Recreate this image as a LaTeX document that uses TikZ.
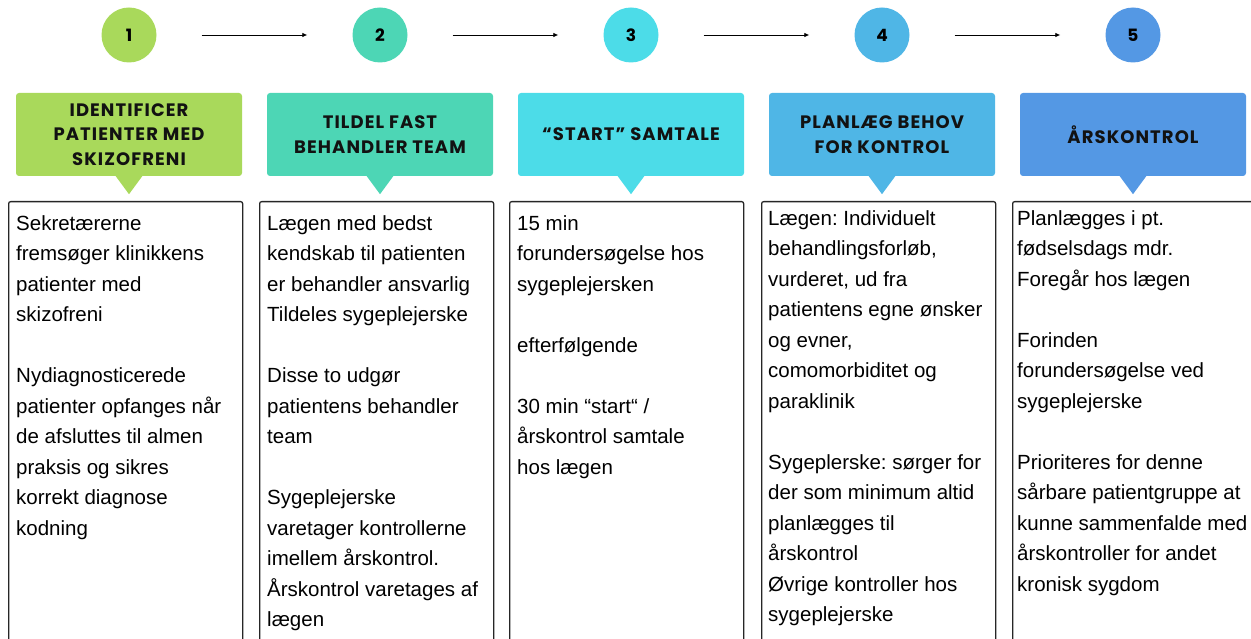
\documentclass[tikz,border=0pt]{standalone}
\usepackage{fontspec}
\setmainfont{Liberation Sans}
\newfontfamily\headfont{Poppins}[LetterSpace=6]
\usetikzlibrary{arrows.meta}

\definecolor{stepgreen}{HTML}{A9D95B}
\definecolor{stepteal}{HTML}{4DD6B5}
\definecolor{stepcyan}{HTML}{4CDCE8}
\definecolor{stepsky}{HTML}{4FB6E6}
\definecolor{stepblue}{HTML}{5498E4}

\begin{document}
\frenchspacing
\begin{tikzpicture}[x=1pt,y=-1pt,
    >={Latex[length=5pt,width=4.5pt]},
    num/.style={circle,minimum size=55pt,inner sep=0pt,
        font=\headfont\bfseries\fontsize{17}{20}\selectfont},
    head/.style={rounded corners=3pt,minimum width=226pt,minimum height=83pt,
        inner sep=0pt,align=center,text=black!93,
        font=\headfont\bfseries\fontsize{18}{24.5}\selectfont},
    bodybox/.style={draw=black!85,line width=1.3pt,rounded corners=2pt,
        minimum width=234pt,minimum height=470pt,anchor=north west,inner sep=0pt},
    bodytext/.style={anchor=north west,inner sep=0pt,align=left,
        font=\fontsize{20.5}{30.5}\selectfont}]
    \useasboundingbox (0,0) rectangle (1251,639);
    \clip (0,0) rectangle (1251,639);

    % Step numbers
    \node[num,fill=stepgreen] (n1) at (129,35) {1};
    \node[num,fill=stepteal] (n2) at (380,35) {2};
    \node[num,fill=stepcyan] (n3) at (631,35) {3};
    \node[num,fill=stepsky] (n4) at (882,35) {4};
    \node[num,fill=stepblue] (n5) at (1133,35) {5};

    % Arrows between the steps
    \draw[->,line width=0.8pt,shorten <=45pt,shorten >=45pt] (n1) -- (n2);
    \draw[->,line width=0.8pt,shorten <=45pt,shorten >=45pt] (n2) -- (n3);
    \draw[->,line width=0.8pt,shorten <=45pt,shorten >=45pt] (n3) -- (n4);
    \draw[->,line width=0.8pt,shorten <=45pt,shorten >=45pt] (n4) -- (n5);

    % Headings
    \node[head,fill=stepgreen] (h1) at (129,134.5) {IDENTIFICER\\PATIENTER MED\\SKIZOFRENI};
    \node[head,fill=stepteal] (h2) at (380,134.5) {TILDEL FAST\\BEHANDLER TEAM};
    \node[head,fill=stepcyan] (h3) at (631,134.5) {“START” SAMTALE};
    \node[head,fill=stepsky] (h4) at (882,134.5) {PLANLÆG BEHOV\\FOR KONTROL};
    \node[head,fill=stepblue] (h5) at (1133,134.5) {ÅRSKONTROL};

    % Pointers under the headings
    \fill[stepgreen] ([xshift=-14pt,yshift=1pt]h1.south) -- ([xshift=14pt,yshift=1pt]h1.south) -- ([yshift=-18pt]h1.south) -- cycle;
    \fill[stepteal] ([xshift=-14pt,yshift=1pt]h2.south) -- ([xshift=14pt,yshift=1pt]h2.south) -- ([yshift=-18pt]h2.south) -- cycle;
    \fill[stepcyan] ([xshift=-14pt,yshift=1pt]h3.south) -- ([xshift=14pt,yshift=1pt]h3.south) -- ([yshift=-18pt]h3.south) -- cycle;
    \fill[stepsky] ([xshift=-14pt,yshift=1pt]h4.south) -- ([xshift=14pt,yshift=1pt]h4.south) -- ([yshift=-18pt]h4.south) -- cycle;
    \fill[stepblue] ([xshift=-14pt,yshift=1pt]h5.south) -- ([xshift=14pt,yshift=1pt]h5.south) -- ([yshift=-18pt]h5.south) -- cycle;

    % Text boxes
    \node[bodybox] (b1) at (8,201) {};
    \node[bodybox] (b2) at (259,201) {};
    \node[bodybox] (b3) at (509,201) {};
    \node[bodybox] (b4) at (761,201) {};
    \node[bodybox,minimum width=260pt] (b5) at (1012,201) {};

    \node[bodytext] (t1) at ([xshift=8pt,yshift=-7.6pt]b1.north west)
        {\strut Sekretærerne\\fremsøger klinikkens\\patienter med\\skizofreni\\[30.5pt]
         Nydiagnosticerede\\patienter opfanges når\\de afsluttes til almen\\praksis og sikres\\korrekt diagnose\\kodning};
    \node[bodytext] (t2) at ([xshift=8pt,yshift=-7.6pt]b2.north west)
        {\strut Lægen med bedst\\kendskab til patienten\\er behandler ansvarlig\\Tildeles sygeplejerske\\[30.5pt]
         Disse to udgør\\patientens behandler\\team\\[30.5pt]
         Sygeplejerske\\varetager kontrollerne\\imellem årskontrol.\\Årskontrol varetages af\\lægen};
    \node[bodytext] (t3) at ([xshift=8pt,yshift=-7.6pt]b3.north west)
        {\strut 15 min\\forundersøgelse hos\\sygeplejersken\\[30.5pt]
         efterfølgende\\[30.5pt]
         30 min “start“ /\\årskontrol samtale\\hos lægen};
    \node[bodytext] (t4) at ([xshift=7pt,yshift=-2.6pt]b4.north west)
        {\strut Lægen: Individuelt\\behandlingsforløb,\\vurderet, ud fra\\patientens egne ønsker\\og evner,\\comomorbiditet og\\paraklinik\\[30.5pt]
         Sygeplerske: sørger for\\der som minimum altid\\planlægges til\\årskontrol\\Øvrige kontroller hos\\sygeplejerske};
    \node[bodytext] (t5) at ([xshift=5pt,yshift=-2.6pt]b5.north west)
        {\strut Planlægges i pt.\\fødselsdags mdr.\\Foregår hos lægen\\[30.5pt]
         Forinden\\forundersøgelse ved\\sygeplejerske\\[30.5pt]
         Prioriteres for denne\\sårbare patientgruppe at\\kunne sammenfalde med\\årskontroller for andet\\kronisk sygdom};
\end{tikzpicture}
\end{document}
